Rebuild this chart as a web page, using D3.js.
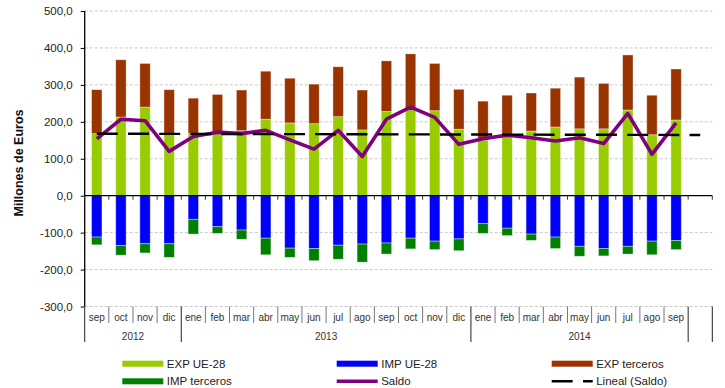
<!DOCTYPE html>
<html>
<head>
<meta charset="utf-8">
<script src="https://cdn.jsdelivr.net/npm/d3@7/dist/d3.min.js"></script>
<style>
  html, body { margin: 0; padding: 0; background: #fff; }
  svg { display: block; font-family: "Liberation Sans", Arial, sans-serif; }
</style>
</head>
<body>
<svg id="chart" width="725" height="388"></svg>
<script>
// Monthly trade, millions of euros (sep 2012 – sep 2014, plus one empty slot)
const months = ["sep","oct","nov","dic","ene","feb","mar","abr","may","jun","jul","ago",
                "sep","oct","nov","dic","ene","feb","mar","abr","may","jun","jul","ago","sep",""];
const years  = ["2012","2012","2012","2012",
                "2013","2013","2013","2013","2013","2013","2013","2013","2013","2013","2013","2013",
                "2014","2014","2014","2014","2014","2014","2014","2014","2014",""];

const expUE       = [168,213,240,168,169,168,176,207,197,195,214,178,228,237,230,180,151,165,175,186,181,181,232,165,205];
const expTerceros = [119,155,118,119, 95,106,110,130,121,107,135,108,137,147,128,108,105,107,103,105,140,123,149,107,138];
const impUE       = [-112,-135,-130,-130,-64,-84,-93,-115,-142,-143,-134,-131,-128,-115,-123,-117,-75,-88,-104,-112,-137,-143,-137,-123,-121];
const impTerceros = [-21,-26,-25,-37,-40,-18,-25,-45,-25,-33,-38,-49,-30,-29,-23,-32,-27,-20,-17,-31,-27,-20,-21,-37,-25];
const saldo       = [154,207,203,120,160,172,168,177,151,126,177,106,207,240,212,139,154,164,157,148,157,141,223,112,197];

// Linear trend of the balance: value at the first and the last category slot
const linealIdx   = [0, 25];
const linealSaldo = [167.8, 164.3];

const yTicks = [500,400,300,200,100,0,-100,-200,-300];

(function () {
  const svg = d3.select("#chart");
  const plotL = 84.7, plotR = 712.3, plotT = 11, plotB = 306.5;

  const idx = d3.range(months.length);
  const slot = d3.scaleBand().domain(idx).range([plotL, plotR]).padding(0);
  const bar = d3.scaleBand().domain(idx).range([plotL, plotR]).paddingInner(0.57).paddingOuter(0.285);
  const y = d3.scaleLinear().domain([-300, 500]).range([plotB, plotT]);
  const cx = i => slot(i) + slot.bandwidth() / 2;

  const fmt = d3.formatLocale({decimal: ",", thousands: ".", grouping: [3], currency: ["", "€"], minus: "-"}).format(".1f");

  // Gridlines
  svg.append("g").selectAll("line").data(yTicks.filter(v => v !== 0)).join("line")
    .attr("x1", plotL).attr("x2", plotR)
    .attr("y1", d => y(d)).attr("y2", d => y(d))
    .attr("stroke", "#c8c8c8").attr("stroke-width", 1).attr("stroke-dasharray", "3,2");

  // Stacked bars
  const stacks = [
    {vals: expUE,       base: expUE.map(() => 0), color: "#99CC00"},
    {vals: expTerceros, base: expUE,              color: "#993300"},
    {vals: impUE,       base: impUE.map(() => 0), color: "#0000FF"},
    {vals: impTerceros, base: impUE,              color: "#008000"}
  ];
  const gBars = svg.append("g");
  stacks.forEach(s => {
    gBars.append("g").selectAll("rect").data(s.vals.map((v, i) => ({i, b: s.base[i], t: s.base[i] + v}))).join("rect")
      .attr("x", d => bar(d.i))
      .attr("width", bar.bandwidth())
      .attr("y", d => y(Math.max(d.b, d.t)))
      .attr("height", d => Math.abs(y(d.b) - y(d.t)))
      .attr("fill", s.color)
      .attr("stroke", "rgba(255,255,255,0.45)").attr("stroke-width", 0.8);
  });

  // Y axis
  const yAxis = svg.append("g").attr("transform", `translate(${plotL},0)`)
    .call(d3.axisLeft(y).tickValues(yTicks).tickFormat(fmt).tickSize(4).tickPadding(8));
  yAxis.select(".domain").attr("stroke", "#000").attr("stroke-width", 1.3).attr("d", `M0,${plotT}V${plotB}`);
  yAxis.selectAll(".tick line").attr("stroke", "#000");
  yAxis.selectAll(".tick text").attr("font-size", 11.5).attr("fill", "#222")
    .attr("font-family", "'Liberation Sans', Arial, sans-serif");

  // Zero line with category boundary ticks
  const bounds = d3.range(months.length + 1).map(i => i < months.length ? slot(i) : plotR);
  svg.append("line").attr("x1", plotL).attr("x2", plotR).attr("y1", y(0)).attr("y2", y(0))
    .attr("stroke", "#000").attr("stroke-width", 1.3);
  svg.append("g").selectAll("line").data(bounds).join("line")
    .attr("x1", d => d).attr("x2", d => d).attr("y1", y(0)).attr("y2", y(0) + 4)
    .attr("stroke", "#333").attr("stroke-width", 1);

  // Category labels below the plot: months, then years
  const yearBreak = i => i === 0 || i === months.length || years[i] !== years[i - 1];
  svg.append("g").selectAll("line").data(bounds.map((x, i) => ({x, i}))).join("line")
    .attr("x1", d => d.x).attr("x2", d => d.x)
    .attr("y1", plotB).attr("y2", d => yearBreak(d.i) ? 342 : 323)
    .attr("stroke", d => yearBreak(d.i) ? "#222" : "#777").attr("stroke-width", 1);

  svg.append("g").selectAll("text").data(idx).join("text")
    .attr("x", i => cx(i)).attr("y", 321)
    .attr("text-anchor", "middle").attr("font-size", 10).attr("fill", "#333")
    .text(i => months[i]);

  const groups = [];
  idx.forEach(i => {
    if (i === 0 || years[i] !== years[i - 1]) groups.push({label: years[i], start: i, end: i});
    else groups[groups.length - 1].end = i;
  });
  svg.append("g").selectAll("text").data(groups.filter(g => g.label)).join("text")
    .attr("x", g => (slot(g.start) + slot(g.end) + slot.bandwidth()) / 2).attr("y", 340)
    .attr("text-anchor", "middle").attr("font-size", 10).attr("fill", "#333")
    .text(g => g.label);

  // Balance line
  svg.append("path").datum(saldo)
    .attr("d", d3.line().x((d, i) => cx(i)).y(d => y(d)))
    .attr("fill", "none").attr("stroke", "#800080").attr("stroke-width", 3.6)
    .attr("stroke-linejoin", "round");

  // Linear trend of the balance
  svg.append("path").datum(linealIdx.map((i, k) => [i, linealSaldo[k]]))
    .attr("d", d3.line().x(d => cx(d[0])).y(d => y(d[1])))
    .attr("fill", "none").attr("stroke", "#000").attr("stroke-width", 2.4)
    .attr("stroke-dasharray", "21,10.2");

  // Axis title
  svg.append("text")
    .attr("transform", `translate(22.5,163) rotate(-90)`)
    .attr("text-anchor", "middle").attr("font-size", 12.5).attr("font-weight", "bold").attr("fill", "#111")
    .text("Millones de Euros");

  // Legend
  const legend = [
    {name: "EXP UE-28",      type: "rect", color: "#99CC00", x: 122.3, row: 0},
    {name: "IMP UE-28",      type: "rect", color: "#0000FF", x: 336.7, row: 0},
    {name: "EXP terceros",   type: "rect", color: "#993300", x: 551.7, row: 0},
    {name: "IMP terceros",   type: "rect", color: "#008000", x: 122.3, row: 1},
    {name: "Saldo",          type: "line", color: "#800080", x: 336.7, row: 1},
    {name: "Lineal (Saldo)", type: "dash", color: "#000",    x: 551.7, row: 1}
  ];
  const rowY = [363.7, 381.3];
  const lg = svg.append("g").selectAll("g").data(legend).join("g")
    .attr("transform", d => `translate(${d.x},${rowY[d.row]})`);
  lg.filter(d => d.type === "rect").append("rect")
    .attr("x", 0).attr("y", -3).attr("width", 41).attr("height", 6).attr("fill", d => d.color);
  lg.filter(d => d.type === "line").append("line")
    .attr("x1", 0).attr("x2", 41).attr("stroke", d => d.color).attr("stroke-width", 3.6);
  lg.filter(d => d.type === "dash").append("line")
    .attr("x1", 0).attr("x2", 41).attr("stroke", d => d.color).attr("stroke-width", 2.4)
    .attr("stroke-dasharray", "21,10.3");
  lg.append("text").attr("x", 44.5).attr("y", 4)
    .attr("font-size", 11.5).attr("fill", "#222").text(d => d.name);
})();
</script>
</body>
</html>
